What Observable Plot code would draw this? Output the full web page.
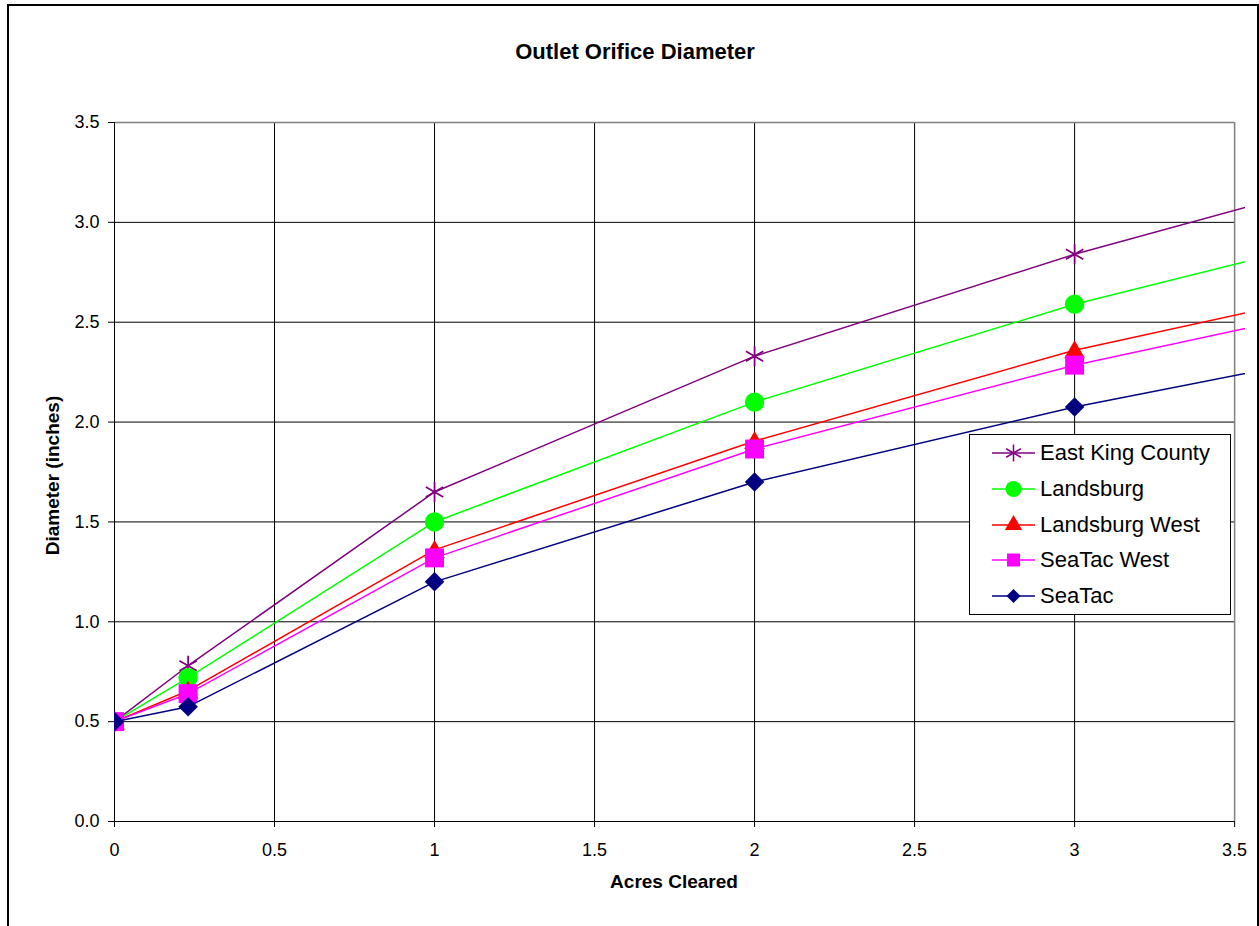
<!DOCTYPE html>
<html>
<head>
<meta charset="utf-8">
<script src="https://cdn.jsdelivr.net/npm/d3@7"></script>
<script src="https://cdn.jsdelivr.net/npm/@observablehq/plot@0.6"></script>
<style>
html, body { margin: 0; padding: 0; background: #fff; overflow: hidden; }
#chart { position: relative; width: 1259px; height: 926px; overflow: hidden; font-family: "Liberation Sans", Arial, sans-serif; color: #000; }
#frame { position: absolute; left: 7px; top: 4px; width: 1252px; height: 1000px; box-sizing: border-box; border: 2px solid #000; }
#plot { position: absolute; left: 0; top: 0; }
.title { position: absolute; left: 10px; width: 1250px; top: 41px; text-align: center; font-weight: bold; font-size: 22px; line-height: 22px; white-space: nowrap; }
.xlabel { position: absolute; left: 474px; width: 400px; top: 872px; text-align: center; font-weight: bold; font-size: 19px; line-height: 19px; white-space: nowrap; }
.ylabel { position: absolute; left: -147.6px; width: 400px; top: 465.5px; height: 19px; text-align: center; font-weight: bold; font-size: 19px; line-height: 19px; white-space: nowrap; transform: rotate(-90deg); transform-origin: 50% 50%; }
#legend { position: absolute; left: 969px; top: 434px; width: 262px; height: 181px; box-sizing: border-box; border: 1px solid #000; background: #fff; }
.row { position: absolute; left: 0; height: 36px; display: flex; align-items: center; }
.row svg { margin-left: 22px; }
.row span { margin-left: 4px; font-size: 22px; line-height: 22px; white-space: nowrap; }
</style>
</head>
<body>
<div id="chart">
  <div id="frame"></div>
</div>
<script>
// ---- data ----
const acres = [0, 0.23, 1, 2, 3, 4];
const seriesNames = ["East King County", "Landsburg", "Landsburg West", "SeaTac West", "SeaTac"];
const eastKingCounty = [0.5, 0.78, 1.65, 2.33, 2.84, 3.28];
const landsburg      = [0.5, 0.72, 1.50, 2.10, 2.59, 2.99];
const landsburgWest  = [0.5, 0.655, 1.36, 1.905, 2.36, 2.71];
const seaTacWest     = [0.5, 0.64, 1.32, 1.865, 2.285, 2.63];
const seaTac         = [0.5, 0.575, 1.20, 1.70, 2.075, 2.39];
const xTicks = [0, 0.5, 1, 1.5, 2, 2.5, 3, 3.5];
const yTicks = [0, 0.5, 1, 1.5, 2, 2.5, 3, 3.5];
const titleText = "Outlet Orifice Diameter";
const xLabelText = "Acres Cleared";
const yLabelText = "Diameter (inches)";

// ---- styles ----
const colors  = ["#800080", "#00ff00", "#ff0000", "#ff00ff", "#000080"];
const symbols = ["asterisk", "circle", "triangle", "square", "diamond2"];
const radii   = [9.5, 9.7, 7.7, 10.7, 8.8];
const legendSizes = [204, 201, 130, 169, 125];

const seriesValues = [eastKingCounty, landsburg, landsburgWest, seaTacWest, seaTac];
const table = seriesNames.flatMap((name, i) =>
  acres.map((a, j) => ({ series: name, acres: a, diameter: seriesValues[i][j] })));

const xMax = xTicks[xTicks.length - 1];
const yMax = yTicks[yTicks.length - 1];

const marks = [
  Plot.ruleX(xTicks.slice(1, -1), { y1: 0, y2: yMax, stroke: "#000", strokeWidth: 1 }),
  Plot.ruleY(yTicks.slice(1, -1), { x1: 0, x2: xMax, stroke: "#000", strokeWidth: 1 }),
  Plot.ruleX([xMax], { y1: 0, y2: yMax, stroke: "#808080", strokeWidth: 1.5 }),
  Plot.ruleY([yMax], { x1: 0, x2: xMax, stroke: "#808080", strokeWidth: 1.5 }),
  Plot.ruleX([0], { y1: 0, y2: yMax, stroke: "#000", strokeWidth: 1 }),
  Plot.ruleY([0], { x1: 0, x2: xMax, stroke: "#000", strokeWidth: 1 })
];

seriesNames.forEach((name, i) => {
  const d = table.filter(r => r.series === name);
  marks.push(Plot.line(d, { x: "acres", y: "diameter", stroke: colors[i], strokeWidth: 1.5, clip: true }));
  if (symbols[i] === "asterisk") {
    marks.push(Plot.dot(d, { x: "acres", y: "diameter", symbol: "asterisk", r: radii[i], stroke: colors[i], strokeWidth: 1.75, fill: "none", clip: true }));
  } else {
    marks.push(Plot.dot(d, { x: "acres", y: "diameter", symbol: symbols[i], r: radii[i], fill: colors[i], stroke: "none", clip: true, dy: symbols[i] === "triangle" ? 2 : 0 }));
  }
});

const plot = Plot.plot({
  width: 1259,
  height: 926,
  marginLeft: 114,
  marginRight: 14,
  marginTop: 122,
  marginBottom: 105,
  style: { fontFamily: "'Liberation Sans', Arial, sans-serif", fontSize: "18px", color: "#000", background: "transparent", overflow: "visible" },
  x: { domain: [0, 3.534], ticks: xTicks, tickFormat: d => String(d), tickSize: 6, tickPadding: 16, label: null },
  y: { domain: [0, yMax], ticks: yTicks, tickFormat: d3.format(".1f"), tickSize: 6, tickPadding: 9, label: null },
  marks
});
plot.id = "plot";
const chart = document.getElementById("chart");
chart.appendChild(plot);

function addText(cls, txt) {
  const el = document.createElement("div");
  el.className = cls;
  el.textContent = txt;
  chart.appendChild(el);
}
addText("title", titleText);
addText("xlabel", xLabelText);
addText("ylabel", yLabelText);

// ---- legend ----
const legend = document.createElement("div");
legend.id = "legend";
chart.appendChild(legend);
const symbolTypes = { asterisk: d3.symbolAsterisk, circle: d3.symbolCircle, triangle: d3.symbolTriangle, square: d3.symbolSquare, diamond2: d3.symbolDiamond2 };
seriesNames.forEach((name, i) => {
  const row = document.createElement("div");
  row.className = "row";
  row.style.top = (i * 35.8) + "px";
  const svg = d3.create("svg").attr("width", 44).attr("height", 24);
  svg.append("line").attr("x1", 0).attr("x2", 43).attr("y1", 12).attr("y2", 12)
    .attr("stroke", colors[i]).attr("stroke-width", 1.5);
  const path = svg.append("path")
    .attr("transform", "translate(21.5,12)")
    .attr("d", d3.symbol(symbolTypes[symbols[i]], legendSizes[i])());
  if (symbols[i] === "asterisk") path.attr("fill", "none").attr("stroke", colors[i]).attr("stroke-width", 1.5);
  else path.attr("fill", colors[i]);
  row.appendChild(svg.node());
  const span = document.createElement("span");
  span.textContent = name;
  row.appendChild(span);
  legend.appendChild(row);
});
</script>
</body>
</html>
